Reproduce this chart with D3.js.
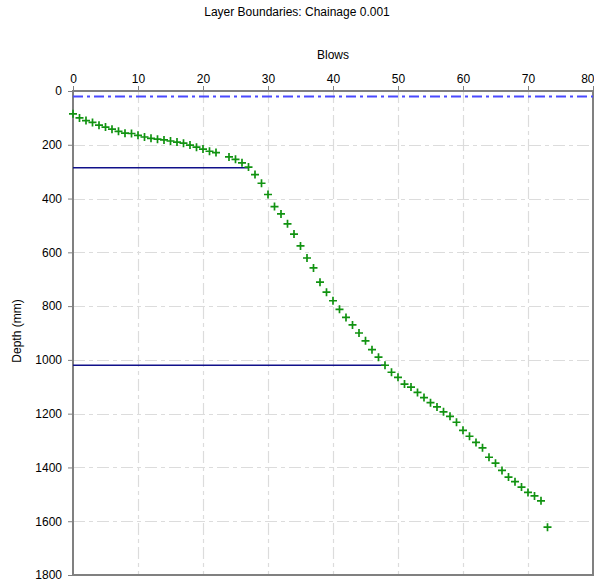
<!DOCTYPE html>
<html>
<head>
<meta charset="utf-8">
<script src="https://cdn.jsdelivr.net/npm/d3@7"></script>
<style>
  html, body { margin: 0; padding: 0; background: #fff; }
  svg { display: block; font-family: "Liberation Sans", Arial, sans-serif; }
</style>
</head>
<body>
<svg id="chart" width="594" height="582"></svg>
<script>
// DCP readings: cumulative blows vs. penetration depth (mm)
const blows = [0,1,2,3,4,5,6,7,8,9,10,11,12,13,14,15,16,17,18,19,20,21,22,
  24,25,26,27,28,29,30,31,32,33,34,35,36,37,38,39,40,41,42,43,44,45,46,47,48,
  49,50,51,52,53,54,55,56,57,58,59,60,61,62,63,64,65,66,67,68,69,70,71,72,73];
const depths = [85,100,110,117,127,134,142,150,157,158,165,171,176,179,182,186,190,194,201,209,216,224,229,
  245,254,267,283,311,343,385,430,457,494,532,576,621,658,711,748,780,812,842,870,900,929,962,990,1020,
  1046,1065,1090,1101,1121,1140,1159,1175,1193,1210,1232,1262,1284,1307,1327,1362,1384,1411,1436,1453,1473,1493,1506,1524,1622];

// Layer boundaries (depth, and blow count where the boundary meets the curve)
const layerDepths = [285, 1020];
const layerBlows = [27, 48];

// Reference (start) level
const startDepth = 20;

// Axis ticks
const xTicks = [0,10,20,30,40,50,60,70,80];
const yTicks = [0,200,400,600,800,1000,1200,1400,1600,1800];

const titleText = "Layer Boundaries: Chainage 0.001";
const xTitle = "Blows";
const yTitle = "Depth (mm)";

const svg = d3.select("#chart");
const plotL = 73, plotR = 593, plotT = 91, plotB = 575;

const x = d3.scaleLinear().domain([0, 80]).range([plotL, plotR]);
const y = d3.scaleLinear().domain([0, 1800]).range([plotT, plotB]);

// Grid
const grid = svg.append("g")
  .attr("stroke", "#dcdcdc").attr("stroke-width", 1.2)
  .attr("stroke-dasharray", "12,4,4,4").attr("fill", "none");
grid.selectAll("line.v").data(xTicks.slice(1, -1)).join("line")
  .attr("class", "v")
  .attr("x1", d => Math.round(x(d)) + 0.5).attr("x2", d => Math.round(x(d)) + 0.5)
  .attr("y1", plotT).attr("y2", plotB);
grid.selectAll("line.h").data(yTicks.slice(1, -1)).join("line")
  .attr("class", "h")
  .attr("y1", d => Math.round(y(d)) + 0.5).attr("y2", d => Math.round(y(d)) + 0.5)
  .attr("x1", plotL).attr("x2", plotR);

// Axes
const xAxis = d3.axisTop(x).tickValues(xTicks).tickSize(5).tickPadding(3).tickFormat(d3.format("d"));
const yAxis = d3.axisLeft(y).tickValues(yTicks).tickSize(5).tickPadding(6).tickFormat(d3.format("d"));

const gx = svg.append("g").attr("transform", `translate(0,${plotT})`).call(xAxis);
const gy = svg.append("g").attr("transform", `translate(${plotL},0)`).call(yAxis);
[gx, gy].forEach(g => {
  g.select(".domain").remove();
  g.selectAll(".tick line").attr("stroke", "#808080");
  g.selectAll(".tick text").attr("fill", "#000").style("font-size", "12px")
    .style("font-family", "Liberation Sans, Arial, sans-serif");
});
// Keep the last top label inside the page edge
gx.selectAll(".tick text").filter(d => d === 80)
  .attr("text-anchor", "end").attr("x", 594 - plotR);

// Plot frame
svg.append("rect")
  .attr("x", plotL).attr("y", plotT)
  .attr("width", plotR - plotL).attr("height", plotB - plotT)
  .attr("fill", "none").attr("stroke", "#808080").attr("stroke-width", 2);

// Start level (dash-dot)
svg.append("line")
  .attr("x1", x(0)).attr("x2", x(80))
  .attr("y1", y(startDepth)).attr("y2", y(startDepth))
  .attr("stroke", "#4a4aff").attr("stroke-width", 2)
  .attr("stroke-dasharray", "10,4,3,4");

// Layer boundary lines
svg.selectAll("line.layer").data(layerDepths).join("line")
  .attr("class", "layer")
  .attr("x1", x(0)).attr("x2", (d, i) => x(layerBlows[i]))
  .attr("y1", d => y(d)).attr("y2", d => y(d))
  .attr("stroke", "#10108a").attr("stroke-width", 1.5);

// Data points as crosses
const s = 4;
svg.append("g").selectAll("path").data(blows).join("path")
  .attr("d", (b, i) => {
    const px = x(b), py = y(depths[i]);
    return `M${px - s},${py}H${px + s}M${px},${py - s}V${py + s}`;
  })
  .attr("stroke", "#119311").attr("stroke-width", 1.7).attr("fill", "none");

// Titles
svg.append("text").attr("x", 297).attr("y", 16).attr("text-anchor", "middle")
  .style("font-size", "12px").text(titleText);
svg.append("text").attr("x", (plotL + plotR) / 2).attr("y", 59).attr("text-anchor", "middle")
  .style("font-size", "12px").text(xTitle);
svg.append("text")
  .attr("transform", `translate(21,${(plotT + plotB) / 2 - 2}) rotate(-90)`)
  .attr("text-anchor", "middle")
  .style("font-size", "12px").text(yTitle);
</script>
</body>
</html>
